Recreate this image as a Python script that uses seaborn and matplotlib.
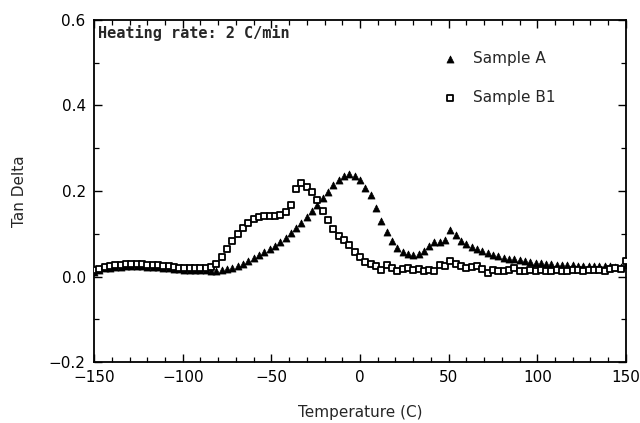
import matplotlib
matplotlib.use("Agg")
import matplotlib.pyplot as plt
from matplotlib.ticker import MultipleLocator
import seaborn as sns
import pandas as pd

temps = [-150, -147, -144, -141, -138, -135, -132, -129, -126, -123,
         -120, -117, -114, -111, -108, -105, -102, -99, -96, -93,
         -90, -87, -84, -81, -78, -75, -72, -69, -66, -63,
         -60, -57, -54, -51, -48, -45, -42, -39, -36, -33,
         -30, -27, -24, -21, -18, -15, -12, -9, -6, -3,
         0, 3, 6, 9, 12, 15, 18, 21, 24, 27,
         30, 33, 36, 39, 42, 45, 48, 51, 54, 57,
         60, 63, 66, 69, 72, 75, 78, 81, 84, 87,
         90, 93, 96, 99, 102, 105, 108, 111, 114, 117,
         120, 123, 126, 129, 132, 135, 138, 141, 144, 147,
         150]

sample_a = [0.010, 0.015, 0.019, 0.020, 0.022, 0.023, 0.024, 0.025, 0.025, 0.024,
            0.023, 0.022, 0.022, 0.021, 0.019, 0.018, 0.017, 0.016, 0.016, 0.015,
            0.015, 0.015, 0.014, 0.014, 0.016, 0.018, 0.021, 0.025, 0.030, 0.036,
            0.043, 0.050, 0.057, 0.064, 0.072, 0.081, 0.091, 0.102, 0.113, 0.125,
            0.139, 0.153, 0.168, 0.183, 0.198, 0.213, 0.226, 0.236, 0.240, 0.236,
            0.226, 0.208, 0.190, 0.160, 0.130, 0.105, 0.082, 0.067, 0.058, 0.053,
            0.051, 0.053, 0.060, 0.072, 0.080, 0.081, 0.086, 0.108, 0.096, 0.084,
            0.076, 0.070, 0.064, 0.059, 0.055, 0.051, 0.047, 0.044, 0.042, 0.040,
            0.038, 0.036, 0.034, 0.032, 0.031, 0.030, 0.029, 0.028, 0.027, 0.026,
            0.026, 0.025, 0.025, 0.025, 0.024, 0.024, 0.024, 0.024, 0.023, 0.022,
            0.026]

sample_b1 = [0.015, 0.018, 0.022, 0.025, 0.027, 0.028, 0.029, 0.030, 0.030, 0.029,
             0.028, 0.027, 0.026, 0.025, 0.024, 0.022, 0.021, 0.020, 0.020, 0.020,
             0.020, 0.021, 0.023, 0.030, 0.045, 0.065, 0.082, 0.100, 0.113, 0.125,
             0.134, 0.139, 0.141, 0.142, 0.142, 0.143, 0.150, 0.168, 0.205, 0.218,
             0.210, 0.197, 0.178, 0.153, 0.132, 0.110, 0.095, 0.085, 0.073, 0.058,
             0.045, 0.034, 0.030, 0.025, 0.016, 0.028, 0.020, 0.012, 0.018, 0.020,
             0.016, 0.018, 0.014, 0.016, 0.012, 0.028, 0.025, 0.036, 0.030, 0.024,
             0.020, 0.022, 0.025, 0.018, 0.009, 0.015, 0.012, 0.014, 0.016, 0.020,
             0.014, 0.012, 0.016, 0.013, 0.015, 0.014, 0.013, 0.015, 0.014, 0.012,
             0.016, 0.015, 0.013, 0.016, 0.015, 0.016, 0.014, 0.018, 0.020, 0.018,
             0.036]

x_ticks = [-150, -100, -50, 0, 50, 100, 150]
y_ticks = [-0.2, 0.0, 0.2, 0.4, 0.6]

df_a = pd.DataFrame({"Temperature": temps, "TanDelta": sample_a})
df_b = pd.DataFrame({"Temperature": temps, "TanDelta": sample_b1})

sns.set_style("ticks")
plt.rcParams["font.family"] = ["DejaVu Sans"]

fig = plt.figure(figsize=(6.4, 4.23), dpi=100)
ax = fig.add_axes([0.147, 0.144, 0.831, 0.809])

sns.scatterplot(data=df_a, x="Temperature", y="TanDelta", marker="^", color="black",
                edgecolor="black", s=26, linewidth=0.5, ax=ax, label="Sample A", zorder=3)
sns.scatterplot(data=df_b, x="Temperature", y="TanDelta", marker="s", facecolor="white",
                edgecolor="black", s=24, linewidth=1.3, ax=ax, label="Sample B1", zorder=4)

ax.set_xlim(-150, 150)
ax.set_ylim(-0.2, 0.6)
ax.set_xticks(x_ticks)
ax.set_xticklabels([f"{v}".replace("-", "\u2212") for v in x_ticks])
ax.set_yticks(y_ticks)
ax.set_yticklabels([f"{v:.1f}".replace("-", "\u2212") for v in y_ticks])
ax.xaxis.set_minor_locator(MultipleLocator(10))
ax.yaxis.set_minor_locator(MultipleLocator(0.1))
ax.tick_params(which="both", direction="in", top=True, right=True, labelsize=11, colors="black")
ax.tick_params(which="major", length=6, width=1.0, pad=6)
ax.tick_params(which="minor", length=3.5, width=0.9)
for sp in ax.spines.values():
    sp.set_linewidth(1.3)
    sp.set_color("black")

ax.set_xlabel("Temperature (C)", fontsize=11, labelpad=14)
ax.set_ylabel("Tan Delta", fontsize=11, labelpad=16)

ax.text(0.008, 0.985, "Heating rate: 2 C/min", transform=ax.transAxes, ha="left", va="top",
        fontsize=11, fontweight="bold", family="DejaVu Sans Mono")

leg = ax.legend(loc="upper left", bbox_to_anchor=(0.615, 0.95), frameon=False,
                fontsize=11, labelspacing=1.6, handletextpad=0.5, markerscale=1.0)

fig.savefig("out.png", dpi=100)
